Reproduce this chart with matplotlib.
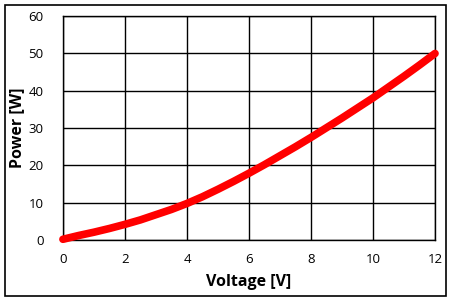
import matplotlib
matplotlib.use('Agg')
import matplotlib.pyplot as plt
from matplotlib.patches import Rectangle

# values
voltage = [0, 0.5, 1, 1.5, 2, 2.5, 3, 3.5, 4, 4.5, 5, 5.5, 6,
           6.5, 7, 7.5, 8, 8.5, 9, 9.5, 10, 10.5, 11, 11.5, 12]
power = [0.2, 1.2, 2.1, 3.1, 4.2, 5.4, 6.8, 8.2, 9.8, 11.6, 13.6, 15.7, 17.9,
         20.2, 22.6, 25.0, 27.5, 30.1, 32.7, 35.4, 38.1, 41.0, 43.9, 46.9, 50.0]

x_ticks = [0, 2, 4, 6, 8, 10, 12]
y_ticks = [0, 10, 20, 30, 40, 50, 60]

plt.rcParams['font.family'] = ['Open Sans', 'DejaVu Sans']

fig = plt.figure(figsize=(4.56, 3.05), dpi=100)
ax = fig.add_axes([0.138, 0.213, 0.816, 0.734])

ax.plot(voltage, power, color='#ff0000', linewidth=5.5,
        solid_capstyle='round', solid_joinstyle='round', zorder=3,
        clip_on=False)

ax.set_xlim(0, 12)
ax.set_ylim(0, 60)
ax.set_xticks(x_ticks)
ax.set_yticks(y_ticks)
ax.grid(True, color='black', linewidth=1.0)
ax.tick_params(length=0, labelsize=9.5, colors='black')
ax.tick_params(axis='y', pad=14)
ax.tick_params(axis='x', pad=9)
for s in ax.spines.values():
    s.set_color('black')
    s.set_linewidth(1.0)

ax.set_xlabel('Voltage [V]', fontsize=11.5, fontweight='bold', labelpad=6)
ax.set_ylabel('Power [W]', fontsize=11.5, fontweight='bold')
ax.yaxis.set_label_coords(-0.102, 0.5)

fig.patches.append(Rectangle((5 / 456, 9 / 305), 441 / 456, 291 / 305,
                             transform=fig.transFigure, fill=False,
                             edgecolor='black', linewidth=1.2))

fig.savefig('out.png', dpi=100)
